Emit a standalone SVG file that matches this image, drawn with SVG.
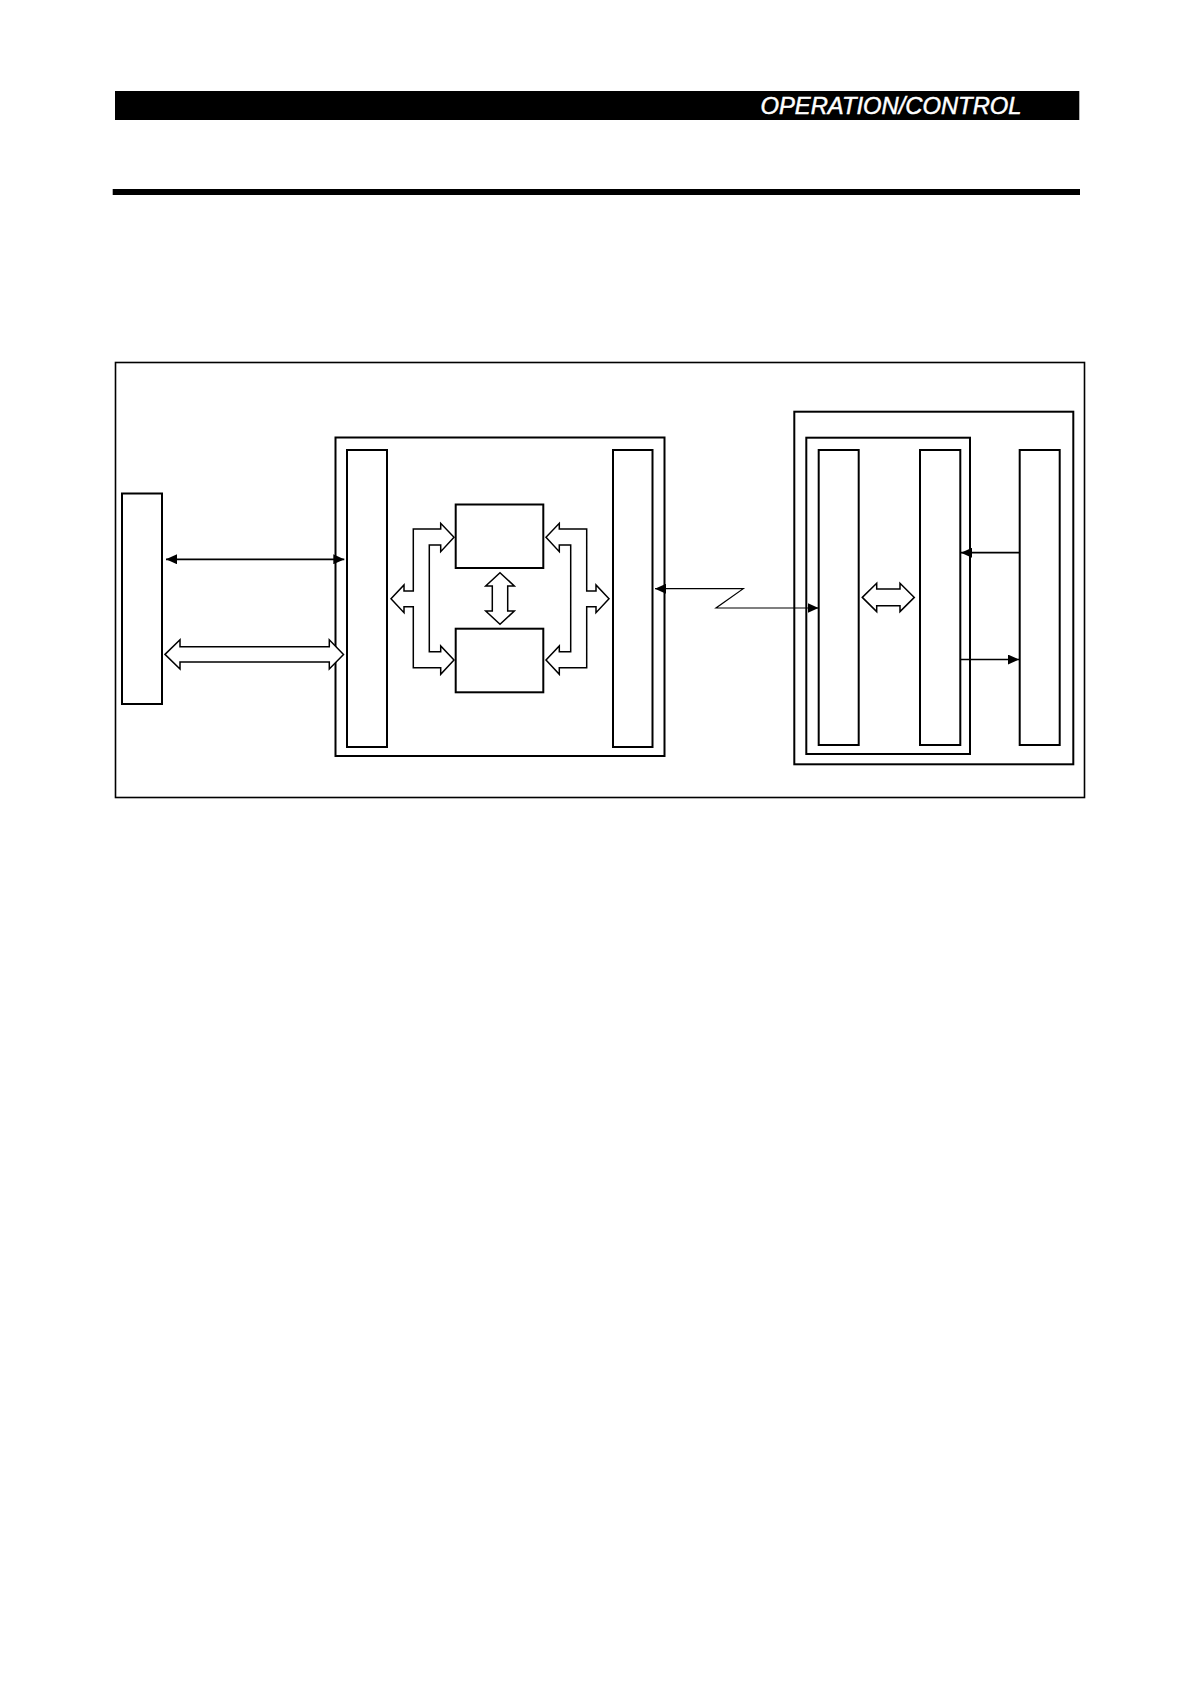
<svg xmlns="http://www.w3.org/2000/svg" width="1192" height="1686" viewBox="0 0 1192 1686">
<style>
.box{fill:none;stroke:#000;stroke-width:2}
.frame{fill:none;stroke:#000;stroke-width:1.6}
.hollow{fill:#fff;stroke:#000;stroke-width:1.5;stroke-linejoin:miter}
.thin{fill:none;stroke:#000;stroke-width:1.7}
.zig{fill:none;stroke:#000;stroke-width:1.2}
.hdr{font-family:"Liberation Sans",Arial,sans-serif;font-style:italic;font-size:24.5px;fill:#fff;stroke:#fff;stroke-width:0.5}
</style>
<defs>
<marker id="ah" markerUnits="userSpaceOnUse" markerWidth="11" markerHeight="10" viewBox="0 0 10 9" refX="10" refY="4.5" orient="auto-start-reverse">
<path d="M0,0 L10,4.5 L0,9 z" fill="#000"/>
</marker>
</defs>
<rect width="1192" height="1686" fill="#fff"/>
<g id="header">
<rect x="115" y="91" width="964.3" height="29" fill="#000"/>
<text class="hdr" x="760.5" y="113.8" textLength="261" lengthAdjust="spacingAndGlyphs">OPERATION/CONTROL</text>
<rect x="112.7" y="189" width="967.3" height="6" fill="#000"/>
</g>
<g id="outer-frame"><rect class="frame" x="115.5" y="362.5" width="969" height="435"/></g>
<g id="left-device"><rect class="box" x="122" y="493.5" width="40" height="210.5"/></g>
<g id="middle-unit">
<rect class="box" x="335.5" y="437.5" width="329" height="318.5"/>
</g>
<g id="middle-left-bar"><rect class="box" x="347" y="450" width="40" height="297"/></g>
<g id="middle-right-bar"><rect class="box" x="613" y="450" width="39.5" height="297"/></g>
<g id="upper-box"><rect class="box" x="455.7" y="504.5" width="87.6" height="63.5"/></g>
<g id="lower-box"><rect class="box" x="455.7" y="628.7" width="87.6" height="63.6"/></g>
<g id="right-unit"><rect class="box" x="794.3" y="411.7" width="279" height="352.6"/></g>
<g id="right-inner-unit"><rect class="box" x="806.3" y="437.7" width="163.7" height="316.3"/></g>
<g id="bar-a"><rect class="box" x="818.7" y="450" width="40" height="295"/></g>
<g id="bar-b"><rect class="box" x="920" y="450" width="40.3" height="295"/></g>
<g id="bar-c"><rect class="box" x="1019.7" y="450" width="40" height="295"/></g>
<g id="connectors">
<line class="thin" x1="166" y1="559.3" x2="344.3" y2="559.3" marker-start="url(#ah)" marker-end="url(#ah)"/>
<polygon class="hollow" points="165,654.4 180,639.8 180,646.8 329.3,646.8 329.3,639.8 343.5,654.4 329.3,669 329.3,662 180,662 180,669"/>
<polygon class="hollow" points="413.3,529 440.7,529 440.7,523.3 454,537.3 440.7,551.7 440.7,545 429.3,545 429.3,651.7 440.7,651.7 440.7,646 454,660 440.7,674.3 440.7,667.7 413.3,667.7 413.3,606.7 404,606.7 404,612.7 391,598.7 404,585 404,591 413.3,591"/>
<polygon class="hollow" points="586.7,529 559.3,529 559.3,523.3 546,537.3 559.3,551.7 559.3,545 570.7,545 570.7,651.7 559.3,651.7 559.3,646 546,660 559.3,674.3 559.3,667.7 586.7,667.7 586.7,606.7 596,606.7 596,612.7 609,598.7 596,585 596,591 586.7,591"/>
<polygon class="hollow" points="500,572.7 514.3,586 507.7,586 507.7,611 514.3,611 500,624.3 485.7,611 492.3,611 492.3,586 485.7,586"/>
<polyline class="zig" points="655,588.7 743.3,588.7 716,608 818.5,608" marker-start="url(#ah)" marker-end="url(#ah)"/>
<polygon class="hollow" points="862.3,597.4 876.7,583.2 876.7,589.1 900,589.1 900,583.2 914.3,597.4 900,611.6 900,605.7 876.7,605.7 876.7,611.6"/>
<line class="thin" x1="1019.7" y1="552.7" x2="961" y2="552.7" marker-end="url(#ah)"/>
<line class="thin" x1="960.3" y1="659.5" x2="1019" y2="659.5" marker-end="url(#ah)"/>
</g>
</svg>
